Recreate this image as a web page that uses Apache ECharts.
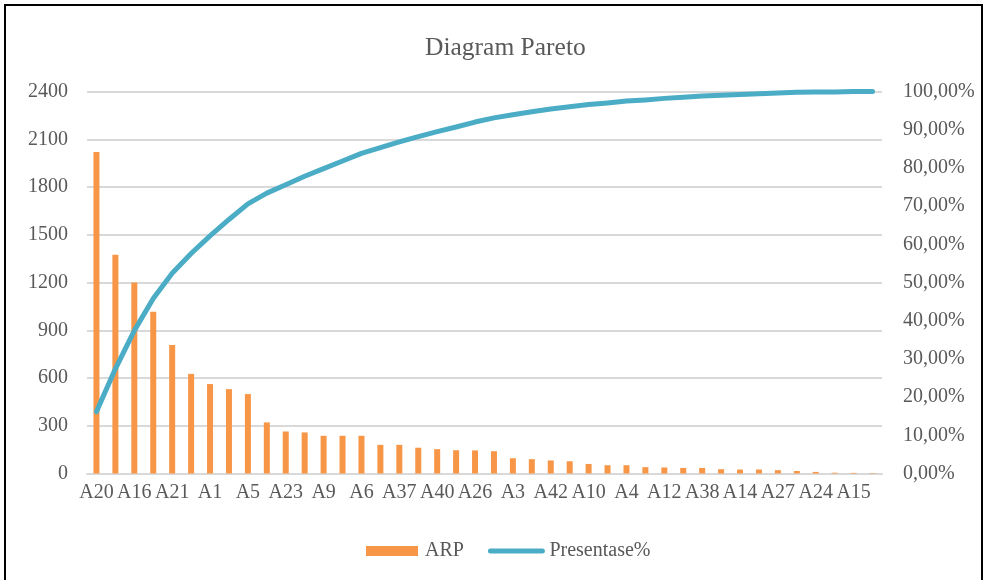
<!DOCTYPE html>
<html>
<head>
<meta charset="utf-8">
<script src="https://cdn.jsdelivr.net/npm/echarts@6/dist/echarts.min.js"></script>
<style>
html,body{margin:0;padding:0;background:#fff;}
#c{width:987px;height:580px;}
</style>
</head>
<body>
<div id="c"></div>
<script>
var categories = ['A20','A2','A16','A7','A21','A8','A1','A11','A5','A13','A23','A17','A9','A18','A6','A19','A37','A22','A40','A25','A26','A28','A3','A29','A42','A30','A10','A31','A4','A32','A12','A33','A38','A34','A14','A35','A27','A36','A24','A39','A15','A41'];
var arpValues = [2020,1375,1200,1016,807,626,562,530,499,321,264,258,237,237,237,180,180,162,153,146,145,140,96,90,82,77,60,52,52,40,38,35,35,27,25,25,21,16,10,5,4,3];
var percentValues = [16.2,27.4,37.4,45.8,52.4,57.6,62.2,66.5,70.6,73.4,75.6,77.8,79.8,81.8,83.8,85.3,86.8,88.2,89.5,90.7,92.0,93.1,93.9,94.7,95.4,96.0,96.6,97.0,97.5,97.8,98.2,98.5,98.8,99.0,99.2,99.4,99.6,99.8,99.9,99.9,100,100];
var leftTicks = {min:0, max:2400, interval:300};
var rightTicks = {min:0, max:100, interval:10};

var font = 'Liberation Serif';
var txt = '#595959';
var chart = echarts.init(document.getElementById('c'), null, {renderer:'canvas'});
chart.setOption({
  backgroundColor:'#fff',
  animation:false,
  title:{text:'Diagram Pareto', left:420, top:30, textStyle:{fontFamily:font, fontSize:25.5, fontWeight:'normal', color:txt}},
  grid:{left:87, right:105, top:91.5, bottom:106.5, containLabel:false},
  legend:{bottom:14, left:361, itemWidth:52, itemHeight:10, itemGap:24,
    textStyle:{fontFamily:font, fontSize:20, color:txt, padding:[0,0,0,2]},
    data:[{name:'ARP', icon:'rect'},
          {name:'Presentase%', itemStyle:{opacity:0}, lineStyle:{width:5, cap:'round', color:'#4BACC6'}}]},
  xAxis:{type:'category', data:categories,
    axisLine:{lineStyle:{color:'#d9d9d9', width:2}}, axisTick:{show:false},
    axisLabel:{interval:1, fontFamily:font, fontSize:20, color:txt, margin:9}},
  yAxis:[
    {type:'value', min:leftTicks.min, max:leftTicks.max, interval:leftTicks.interval,
     axisLine:{show:false}, axisTick:{show:false},
     splitLine:{lineStyle:{color:'#d9d9d9', width:2}},
     axisLabel:{fontFamily:font, fontSize:20, color:txt, margin:19, formatter:function(v){return String(v);}}},
    {type:'value', min:rightTicks.min, max:rightTicks.max, interval:rightTicks.interval,
     axisLine:{show:false}, axisTick:{show:false}, splitLine:{show:false},
     axisLabel:{fontFamily:font, fontSize:20, color:txt, margin:21,
       formatter:function(v){return v.toFixed(2).replace('.',',')+'%';}}}
  ],
  series:[
    {name:'ARP', type:'bar', data:arpValues, barWidth:6, itemStyle:{color:'#F79646'}},
    {name:'Presentase%', type:'line', yAxisIndex:1, data:percentValues, symbol:'none', showSymbol:false,
     lineStyle:{color:'#4BACC6', width:5, cap:'round', join:'round'}, itemStyle:{color:'#4BACC6'}}
  ],
  graphic:[{type:'rect', shape:{x:5, y:5, width:977, height:600}, style:{fill:'none', stroke:'#000', lineWidth:2}, silent:true, z:100}]
});
</script>
</body>
</html>
